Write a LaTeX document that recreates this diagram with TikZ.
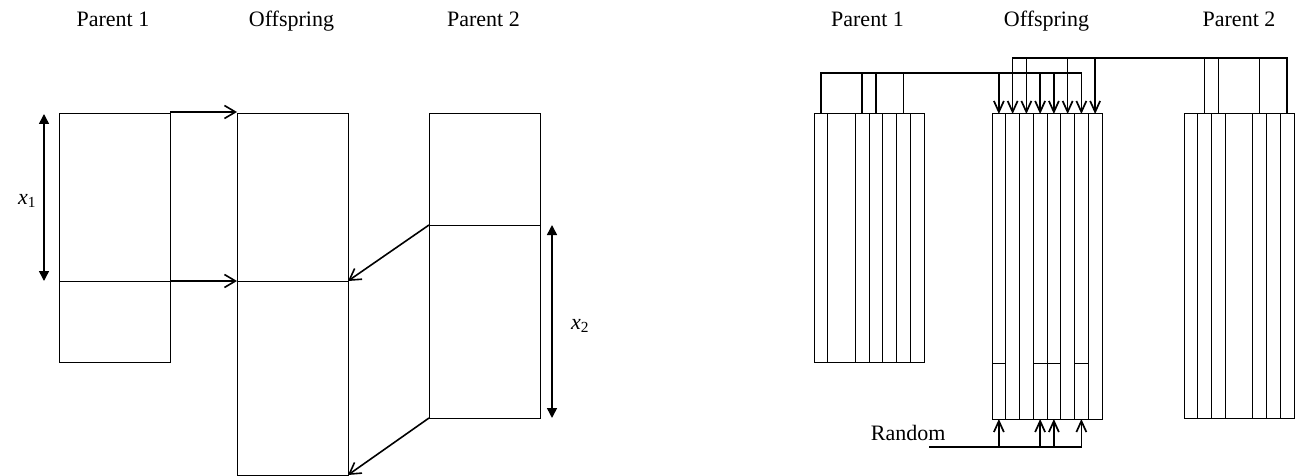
\documentclass[tikz,border=0pt]{standalone}
\usepackage{fontspec}
\setmainfont{Liberation Serif}
\usepackage{tikz}
\usetikzlibrary{arrows.meta}

\begin{document}
\begin{tikzpicture}[x=1pt,y=-1pt,
              font=\fontsize{22}{26}\selectfont,
              blk/.style={draw,line width=1pt,anchor=north west,inner sep=0pt,outer sep=0pt,minimum width=111pt},
              gene/.style={draw,line width=1pt,anchor=north west,inner sep=0pt,outer sep=0pt},
              arr/.style={line width=1.6pt,-{Straight Barb[length=11pt,width=13pt,line width=1.6pt]}},
              dim/.style={line width=1.5pt,{Triangle[length=10pt,width=10pt]}-{Triangle[length=10pt,width=10pt]}},
              link/.style={line width=1.7pt,-{Straight Barb[length=11pt,width=10pt,line width=1.7pt]}},
              ttl/.style={anchor=base}]
  \useasboundingbox (0,0) rectangle (1296,476);

  \node[ttl] (T1) at (113,26.7) {Parent 1};
  \node[ttl] (T2) at (291.5,26.7) {Offspring};
  \node[ttl] (T3) at (483.5,26.7) {Parent 2};
  \node[ttl] (T4) at (867.5,26.7) {Parent 1};
  \node[ttl] (T5) at (1046.5,26.7) {Offspring};
  \node[ttl] (T6) at (1239,26.7) {Parent 2};

  \node[blk,minimum height=167pt] (LP1a) at (59,114) {};
  \node[blk,minimum height=81pt] (LP1b) at (59,281) {};
  \node[blk,minimum height=167pt] (LOa) at (237,114) {};
  \node[blk,minimum height=194pt] (LOb) at (237,281) {};
  \node[blk,minimum height=111pt] (LP2a) at (429,114) {};
  \node[blk,minimum height=193pt] (LP2b) at (429,225) {};

  \draw[arr] ([yshift=2pt]LP1a.north east) -- ([yshift=2pt]LOa.north west);
  \draw[arr] (LP1a.south east) -- (LOa.south west);
  \draw[arr] (LP2b.north west) -- (LOb.north east);
  \draw[arr] (LP2b.south west) -- (LOb.south east);

  \draw[dim] ([xshift=-15pt]LP1a.north west) -- ([xshift=-15pt]LP1a.south west);
  \draw[dim] ([xshift=12pt]LP2b.north east) -- ([xshift=12pt]LP2b.south east);
  \node (X1) at (27,201) {\textit{x}\textsubscript{1}};
  \node (X2) at (580,326) {\textit{x}\textsubscript{2}};

  \foreach \s/\w in {1/1,2/2,4/1,5/1,6/1,7/1,8/1}
    \node[gene,minimum width=13.75*\w pt,minimum height=248pt] (p1g\s) at ({814+13.75*(\s-1)},114) {};
  \foreach \s in {1,...,8}
    \node[gene,minimum width=13.75pt,minimum height=305pt] (og\s) at ({992+13.75*(\s-1)},114) {};
  \foreach \s/\w in {1/1,2/1,3/1,4/2,6/1,7/1,8/1}
    \node[gene,minimum width=13.75*\w pt,minimum height=304pt] (p2g\s) at ({1184+13.75*(\s-1)},114) {};

  \coordinate (busA) at (0,73);
  \coordinate (busB) at (0,58);
  \foreach \s in {1,4,5,7}
    \draw[link] (p1g\s.north) |- (busA -| og\s.north) -- (og\s.north);
  \foreach \s in {2,3,6,8}
    \draw[link] (p2g\s.north) |- (busB -| og\s.north) -- (og\s.north);

  \coordinate (rnd) at (929,447);
  \node[anchor=base east] (R) at (949,440) {Random};
  \foreach \s in {1,4,5,7}{
    \draw[gene] ([yshift=56pt]og\s.south west) -- ([yshift=56pt]og\s.south east);
    \draw[link] (rnd) -| (og\s.south);
  }
\end{tikzpicture}
\end{document}
